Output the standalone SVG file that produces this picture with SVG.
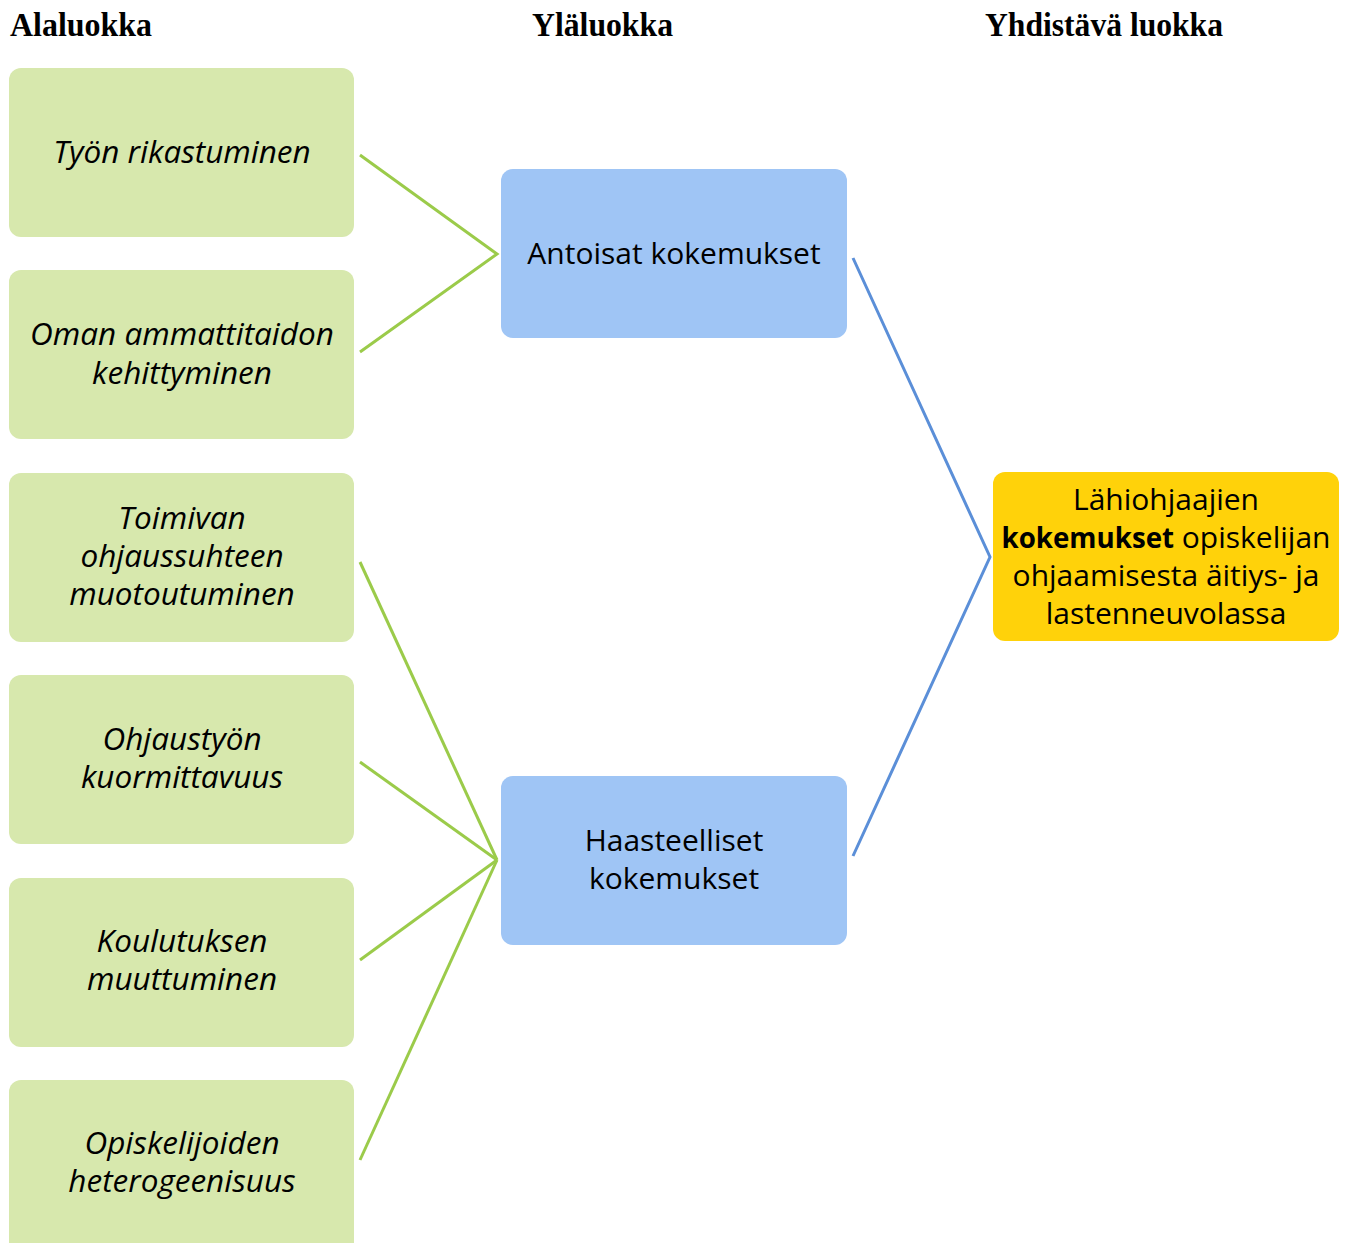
<svg xmlns="http://www.w3.org/2000/svg" width="1345" height="1243" viewBox="0 0 1345 1243">
<style>
.hdr{font-family:"Liberation Serif",serif;font-weight:bold;font-size:33px;fill:#000}
.sub rect{fill:#D7E8AD}
.sup rect{fill:#9FC5F5}
.top rect{fill:#FFD20A}
.t{font-family:"Open Sans","Noto Sans",sans-serif;font-size:30px;fill:#000;text-anchor:middle}
.i{font-style:italic;font-size:31.5px}
.g{stroke:#9BCB4A;stroke-width:3;fill:none}
.b{stroke:#5B8FD8;stroke-width:3;fill:none}
</style>
<rect width="1345" height="1243" fill="#fff"/>
<g id="headers">
<text class="hdr" x="10" y="36" textLength="142" lengthAdjust="spacingAndGlyphs">Alaluokka</text>
<text class="hdr" x="532" y="36" textLength="141" lengthAdjust="spacingAndGlyphs">Yläluokka</text>
<text class="hdr" x="985" y="36" textLength="238" lengthAdjust="spacingAndGlyphs">Yhdistävä luokka</text>
</g>
<g id="connectors">
<polyline class="g" points="360,155 497,254 360,352"/>
<line class="g" x1="360" y1="562" x2="497" y2="860"/>
<line class="g" x1="360" y1="762" x2="497" y2="860"/>
<line class="g" x1="360" y1="960" x2="497" y2="860"/>
<line class="g" x1="360" y1="1160" x2="497" y2="860"/>
<polyline class="b" points="853,258 990,557 853,856"/>
</g>
<g id="n1" class="sub"><rect x="9" y="68" width="345" height="169" rx="12"/><text class="t i" x="182" y="163">Työn rikastuminen</text></g>
<g id="n2" class="sub"><rect x="9" y="270" width="345" height="169" rx="12"/><text class="t i" x="182" y="345">Oman ammattitaidon</text><text class="t i" x="182" y="384">kehittyminen</text></g>
<g id="n3" class="sub"><rect x="9" y="473" width="345" height="169" rx="12"/><text class="t i" x="182" y="529">Toimivan</text><text class="t i" x="182" y="567">ohjaussuhteen</text><text class="t i" x="182" y="605">muotoutuminen</text></g>
<g id="n4" class="sub"><rect x="9" y="675" width="345" height="169" rx="12"/><text class="t i" x="182" y="750">Ohjaustyön</text><text class="t i" x="182" y="788">kuormittavuus</text></g>
<g id="n5" class="sub"><rect x="9" y="878" width="345" height="169" rx="12"/><text class="t i" x="182" y="952">Koulutuksen</text><text class="t i" x="182" y="990">muuttuminen</text></g>
<g id="n6" class="sub"><rect x="9" y="1080" width="345" height="180" rx="12"/><text class="t i" x="182" y="1154">Opiskelijoiden</text><text class="t i" x="182" y="1192">heterogeenisuus</text></g>
<g id="n7" class="sup"><rect x="501" y="169" width="346" height="169" rx="12"/><text class="t" x="674" y="264">Antoisat kokemukset</text></g>
<g id="n8" class="sup"><rect x="501" y="776" width="346" height="169" rx="12"/><text class="t" x="674" y="851">Haasteelliset</text><text class="t" x="674" y="889">kokemukset</text></g>
<g id="n9" class="top"><rect x="993" y="472" width="346" height="169" rx="12"/><text class="t" x="1166" y="510">Lähiohjaajien</text><text class="t" x="1166" y="548"><tspan font-weight="bold" font-size="27.7px">kokemukset</tspan> opiskelijan</text><text class="t" x="1166" y="586">ohjaamisesta äitiys- ja</text><text class="t" x="1166" y="624">lastenneuvolassa</text></g>
</svg>
